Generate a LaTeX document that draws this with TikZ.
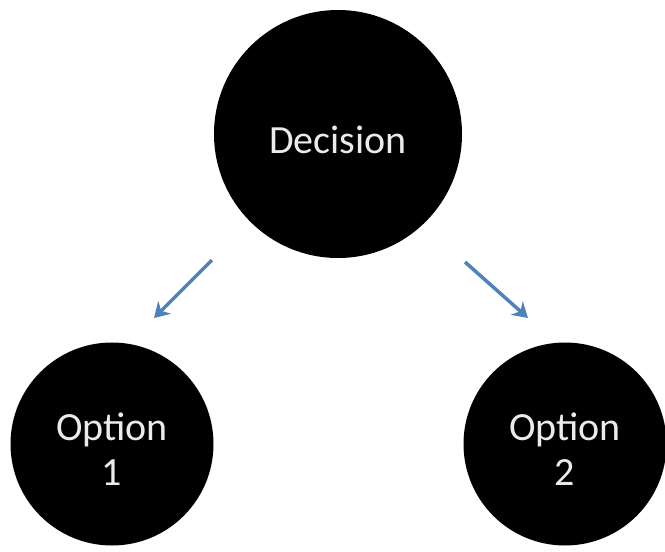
\documentclass[tikz,border=0pt]{standalone}
\usepackage{fontspec}
\setmainfont{Carlito}
\usetikzlibrary{positioning}
\usetikzlibrary{arrows.meta}
\definecolor{pickblue}{RGB}{79,129,189}
\tikzset{x=1pt, y=-1pt,
    choice/.style={
        circle,
        fill=black,
        inner sep=0pt},
    choicetext/.style={
        text=white!92!black,
        align=center,
        font=\fontsize{40}{45}\selectfont},
    pick/.style={
        draw=pickblue,
        line width=3.5pt,
        -{Stealth[length=15pt,width=18pt]}}}

\begin{document}
\begin{tikzpicture}
    \useasboundingbox (0,0) rectangle (665,552);
        \node[choice, minimum size=248pt] (dec) at (338,134) {};
        \node[choice, minimum size=203pt] (opt1) at (112,444) {};
        \node[choice, minimum size=203pt] (opt2) at (565,444) {};
        \node[choicetext] (dectext) at ([yshift=-6pt]dec.center) {Decision};
        \node[choicetext] (opt1text) at ([yshift=-5pt]opt1.center) {Option\\1};
        \node[choicetext] (opt2text) at ([yshift=-5pt]opt2.center) {Option\\2};
        \coordinate (left from) at (212,260);
        \coordinate (left to) at (154,318);
        \coordinate (right from) at (465,262);
        \coordinate (right to) at (528,318);
        \draw[pick] (left from) -- (left to);
        \draw[pick] (right from) -- (right to);
    \end{tikzpicture}
\end{document}
